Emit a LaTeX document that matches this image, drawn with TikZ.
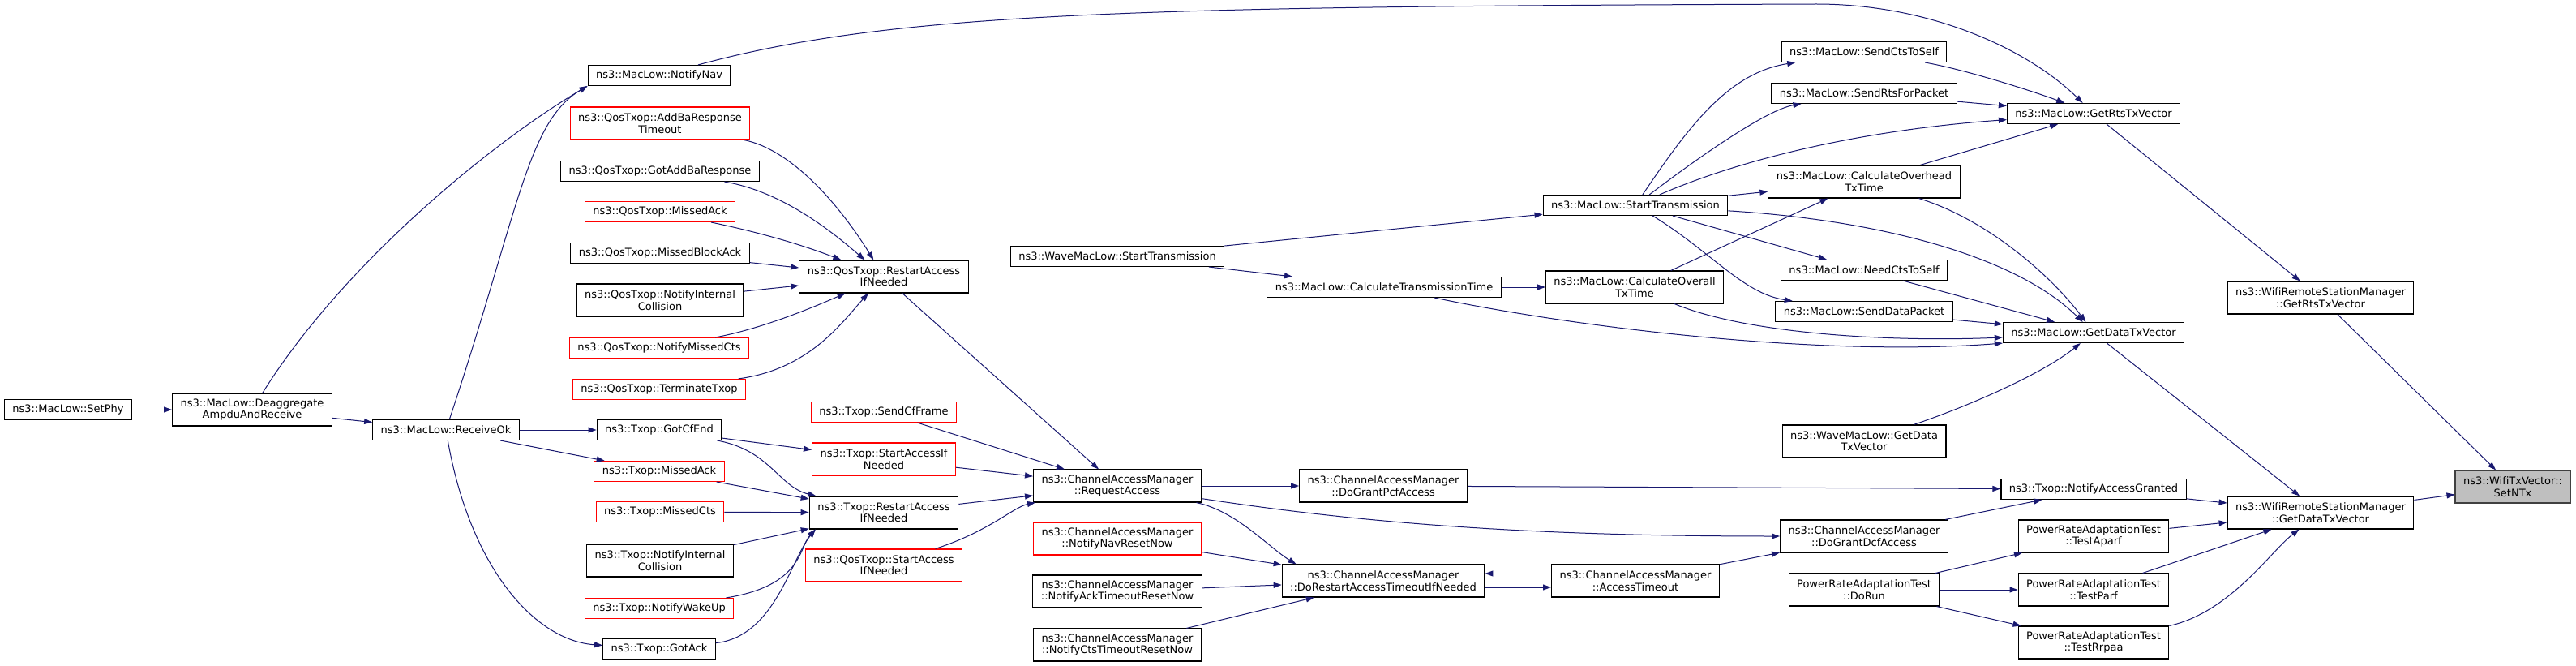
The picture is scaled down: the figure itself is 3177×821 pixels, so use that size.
\documentclass[tikz,border=0pt]{standalone}
\usepackage{fontspec}
\usepackage[dvipsnames, svgnames]{xcolor}
\usepackage{tikz}
\usetikzlibrary{arrows.meta,positioning}
\newfontfamily\doxfont{DejaVu Sans}
\definecolor{callblue}{HTML}{191970}
\definecolor{rootgray}{HTML}{BFBFBF}

\begin{document}
\begin{tikzpicture}[x=1pt,y=-1pt,
            fn/.style={draw=black, fill=white, line width=1.1pt, font=\doxfont\fontsize{13}{14.5}\selectfont,
                align=center, inner xsep=10pt, inner ysep=3pt, minimum height=25pt},
            fntrunc/.style={fn, draw=red},
            fnroot/.style={fn, draw=black!75, fill=rootgray},
            tall/.style={minimum height=40pt},
            call/.style={draw=callblue, line width=1pt, -{Triangle[length=10pt,width=7pt]}}]
            \fill[white] (0,0) rectangle (3177,821);
            \node[fn] (setphy) at (84,505) {ns3::MacLow::SetPhy};
            \node[fn,tall] (deagg) at (311,505) {ns3::MacLow::Deaggregate\\AmpduAndReceive};
            \node[fn] (recvok) at (550,530) {ns3::MacLow::ReceiveOk};
            \node[fn] (notifynav) at (813,93) {ns3::MacLow::NotifyNav};
            \node[fntrunc,tall] (qaddba) at (814,152) {ns3::QosTxop::AddBaResponse\\Timeout};
            \node[fn] (qgotaddba) at (814,211) {ns3::QosTxop::GotAddBaResponse};
            \node[fntrunc] (qmissedack) at (814,261) {ns3::QosTxop::MissedAck};
            \node[fn] (qmissedblock) at (814,312) {ns3::QosTxop::MissedBlockAck};
            \node[fn,tall] (qnotifyint) at (814,370) {ns3::QosTxop::NotifyInternal\\Collision};
            \node[fntrunc] (qnotifycts) at (813,429) {ns3::QosTxop::NotifyMissedCts};
            \node[fntrunc] (qterminate) at (813,480) {ns3::QosTxop::TerminateTxop};
            \node[fn] (tgotcfend) at (813,530) {ns3::Txop::GotCfEnd};
            \node[fntrunc] (tmissedack) at (813,581) {ns3::Txop::MissedAck};
            \node[fntrunc] (tmissedcts) at (814,631) {ns3::Txop::MissedCts};
            \node[fn,tall] (tnotifyint) at (814,691) {ns3::Txop::NotifyInternal\\Collision};
            \node[fntrunc] (twakeup) at (813,750) {ns3::Txop::NotifyWakeUp};
            \node[fn] (tgotack) at (813,800) {ns3::Txop::GotAck};
            \node[fn,tall] (qrestart) at (1090,341) {ns3::QosTxop::RestartAccess\\IfNeeded};
            \node[fntrunc] (tsendcf) at (1090,508) {ns3::Txop::SendCfFrame};
            \node[fntrunc,tall] (tstartacc) at (1090,566) {ns3::Txop::StartAccessIf\\Needed};
            \node[fn,tall] (trestart) at (1090,632) {ns3::Txop::RestartAccess\\IfNeeded};
            \node[fntrunc,tall] (qstartacc) at (1090,697) {ns3::QosTxop::StartAccess\\IfNeeded};
            \node[fn] (wavestart) at (1378,316) {ns3::WaveMacLow::StartTransmission};
            \node[fn,tall] (reqacc) at (1378,599) {ns3::ChannelAccessManager\\::RequestAccess};
            \node[fntrunc,tall] (navreset) at (1378,664) {ns3::ChannelAccessManager\\::NotifyNavResetNow};
            \node[fn,tall] (ackreset) at (1378,729) {ns3::ChannelAccessManager\\::NotifyAckTimeoutResetNow};
            \node[fn,tall] (ctsreset) at (1378,795) {ns3::ChannelAccessManager\\::NotifyCtsTimeoutResetNow};
            \node[fn] (calctrans) at (1707,354) {ns3::MacLow::CalculateTransmissionTime};
            \node[fn,tall] (pcfgrant) at (1706,599) {ns3::ChannelAccessManager\\::DoGrantPcfAccess};
            \node[fn,tall] (dorestart) at (1706,716) {ns3::ChannelAccessManager\\::DoRestartAccessTimeoutIfNeeded};
            \node[fn] (starttx) at (2017,253) {ns3::MacLow::StartTransmission};
            \node[fn,tall] (calcoverall) at (2016,354) {ns3::MacLow::CalculateOverall\\TxTime};
            \node[fn,tall] (accto) at (2017,716) {ns3::ChannelAccessManager\\::AccessTimeout};
            \node[fn] (sendcts) at (2299,64) {ns3::MacLow::SendCtsToSelf};
            \node[fn] (sendrts) at (2299,115) {ns3::MacLow::SendRtsForPacket};
            \node[fn,tall] (calcoverhead) at (2299,224) {ns3::MacLow::CalculateOverhead\\TxTime};
            \node[fn] (needcts) at (2299,333) {ns3::MacLow::NeedCtsToSelf};
            \node[fn] (senddata) at (2299,384) {ns3::MacLow::SendDataPacket};
            \node[fn,tall] (wavegetdata) at (2299,544) {ns3::WaveMacLow::GetData\\TxVector};
            \node[fn,tall] (dcfgrant) at (2299,661) {ns3::ChannelAccessManager\\::DoGrantDcfAccess};
            \node[fn,tall] (dorun) at (2299,727) {PowerRateAdaptationTest\\::DoRun};
            \node[fn] (getrts) at (2582,140) {ns3::MacLow::GetRtsTxVector};
            \node[fn] (getdata) at (2582,410) {ns3::MacLow::GetDataTxVector};
            \node[fn] (accgranted) at (2582,603) {ns3::Txop::NotifyAccessGranted};
            \node[fn,tall] (aparf) at (2582,661) {PowerRateAdaptationTest\\::TestAparf};
            \node[fn,tall] (parf) at (2582,727) {PowerRateAdaptationTest\\::TestParf};
            \node[fn,tall] (rrpaa) at (2582,792) {PowerRateAdaptationTest\\::TestRrpaa};
            \node[fn,tall] (wrsmrts) at (2862,367) {ns3::WifiRemoteStationManager\\::GetRtsTxVector};
            \node[fn,tall] (wrsmdata) at (2862,632) {ns3::WifiRemoteStationManager\\::GetDataTxVector};
            \node[fnroot,tall] (setntx) at (3099,600) {ns3::WifiTxVector::\\SetNTx};
            \draw[call] (setphy) -- (deagg);
            \draw[call] (deagg) -- (recvok);
            \draw[call] (deagg) .. controls (420,330) and (600,180) .. (notifynav.south west);
            \draw[call] (recvok) .. controls (640,260) and (650,150) .. (notifynav.south west);
            \draw[call] (recvok) -- (tgotcfend);
            \draw[call] (recvok) -- (tmissedack);
            \draw[call] (recvok) .. controls (580,700) and (660,790) .. (tgotack);
            \draw[call] (notifynav) .. controls (1100,15) and (1400,8) .. (2240,5) .. controls (2380,5) and (2500,60) .. (getrts);
            \draw[call] (qaddba) .. controls (980,185) and (1040,260) .. (qrestart);
            \draw[call] (qgotaddba) .. controls (960,235) and (1020,280) .. (qrestart);
            \draw[call] (qmissedack) .. controls (930,285) and (985,300) .. (qrestart);
            \draw[call] (qmissedblock) -- (qrestart);
            \draw[call] (qnotifyint) -- (qrestart);
            \draw[call] (qnotifycts) .. controls (940,405) and (1000,380) .. (qrestart);
            \draw[call] (qterminate) .. controls (1000,455) and (1040,395) .. (qrestart);
            \draw[call] (qrestart) -- (reqacc);
            \draw[call] (tgotcfend) -- (tstartacc);
            \draw[call] (tgotcfend) .. controls (950,555) and (960,600) .. (trestart);
            \draw[call] (tmissedack) -- (trestart);
            \draw[call] (tmissedcts) -- (trestart);
            \draw[call] (tnotifyint) -- (trestart);
            \draw[call] (twakeup) .. controls (990,722) and (985,675) .. ([xshift=8pt]trestart.south west);
            \draw[call] (tgotack) .. controls (955,785) and (975,690) .. ([xshift=8pt]trestart.south west);
            \draw[call] (tsendcf) -- (reqacc);
            \draw[call] (tstartacc) -- (reqacc);
            \draw[call] (trestart) -- (reqacc);
            \draw[call] (qstartacc) .. controls (1220,655) and (1250,625) .. (reqacc);
            \draw[call] (reqacc) -- (pcfgrant);
            \draw[call] (reqacc) .. controls (1650,640) and (1850,661) .. (dcfgrant);
            \draw[call] (reqacc) .. controls (1525,630) and (1565,675) .. ([xshift=18pt]dorestart.north west);
            \draw[call] (navreset) -- (dorestart);
            \draw[call] (ackreset) -- (dorestart);
            \draw[call] (ctsreset) -- (dorestart);
            \draw[call] ([yshift=9pt]accto.west) -- ([yshift=9pt]dorestart.east);
            \draw[call] ([yshift=-8pt]dorestart.east) -- ([yshift=-8pt]accto.west);
            \draw[call] (accto) -- (dcfgrant);
            \draw[call] (pcfgrant) -- (accgranted);
            \draw[call] (dcfgrant) -- (accgranted);
            \draw[call] (accgranted) -- (wrsmdata);
            \draw[call] (wavestart) -- (starttx);
            \draw[call] (wavestart) -- (calctrans);
            \draw[call] (calctrans) -- (calcoverall);
            \draw[call] (calctrans) .. controls (1950,405) and (2250,440) .. (getdata.south west);
            \draw[call] (calcoverall) .. controls (2150,410) and (2320,422) .. ([yshift=-6pt]getdata.west);
            \draw[call] (calcoverall) -- (calcoverhead);
            \draw[call] (starttx) .. controls (2080,160) and (2130,90) .. (sendcts);
            \draw[call] (starttx) .. controls (2100,190) and (2180,135) .. (sendrts);
            \draw[call] (starttx) .. controls (2150,195) and (2300,160) .. (getrts);
            \draw[call] (starttx) -- (calcoverhead);
            \draw[call] (starttx) .. controls (2300,270) and (2480,310) .. (getdata);
            \draw[call] (starttx) -- (needcts);
            \draw[call] (starttx) .. controls (2110,310) and (2150,362) .. (senddata);
            \draw[call] (sendcts) .. controls (2420,85) and (2500,110) .. (getrts);
            \draw[call] (sendrts) -- (getrts);
            \draw[call] (calcoverhead) -- (getrts);
            \draw[call] (calcoverhead) .. controls (2450,270) and (2530,340) .. (getdata);
            \draw[call] (needcts) -- (getdata);
            \draw[call] (senddata) -- (getdata);
            \draw[call] (wavegetdata) .. controls (2430,500) and (2520,460) .. (getdata);
            \draw[call] (getrts) -- (wrsmrts);
            \draw[call] (getdata) -- (wrsmdata);
            \draw[call] (wrsmrts) -- (setntx);
            \draw[call] (wrsmdata) -- (setntx);
            \draw[call] (dorun) -- (aparf);
            \draw[call] (dorun) -- (parf);
            \draw[call] (dorun) -- (rrpaa);
            \draw[call] (aparf) -- (wrsmdata);
            \draw[call] (parf) -- (wrsmdata);
            \draw[call] (rrpaa) .. controls (2750,755) and (2800,680) .. (wrsmdata);
        \end{tikzpicture}
\end{document}
